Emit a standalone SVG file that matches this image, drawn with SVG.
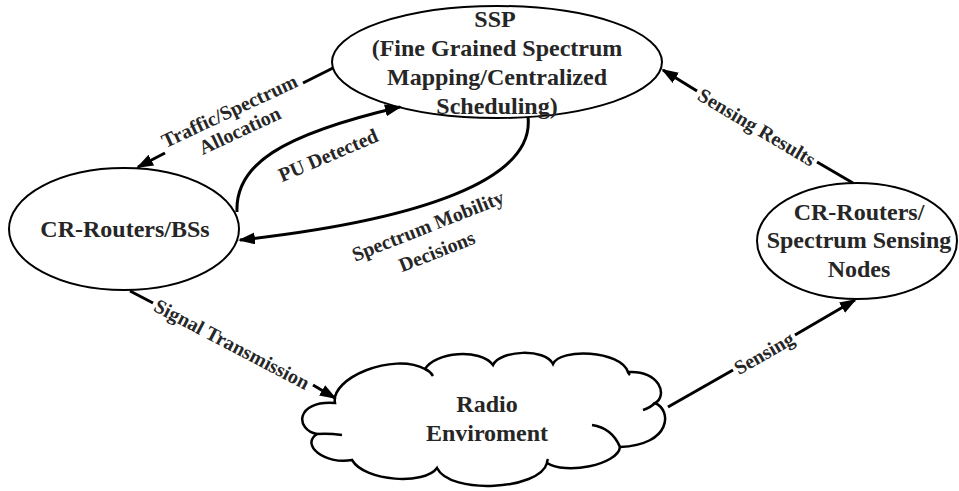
<svg xmlns="http://www.w3.org/2000/svg" width="959" height="491" viewBox="0 0 959 491">
<defs>
<marker id="ah" markerUnits="userSpaceOnUse" markerWidth="18" markerHeight="14" refX="15" refY="6" orient="auto">
<path d="M0,0 L17,6 L0,12 Z" fill="#000"/>
</marker>
<style>
.node{fill:#fff;stroke:#000;stroke-width:2}
.t{font-family:"Liberation Serif","Times New Roman",serif;font-weight:bold;font-size:24px;fill:#262626;text-anchor:middle}
.l{font-family:"Liberation Serif","Times New Roman",serif;font-weight:bold;font-size:20px;fill:#262626;text-anchor:middle}
.c{fill:none;stroke:#000;stroke-width:3}
.h{fill:none;stroke:#000;stroke-width:2.5}
</style>
</defs>
<rect width="959" height="491" fill="#fff"/>
<g id="ssp">
<ellipse class="node" cx="497" cy="62" rx="165" ry="56"/>
<text class="t" x="495" y="27">SSP</text>
<text class="t" x="497" y="56">(Fine Grained Spectrum</text>
<text class="t" x="497" y="85">Mapping/Centralized</text>
<text class="t" x="497" y="114">Scheduling)</text>
</g>
<g id="cr-bs">
<ellipse class="node" cx="124" cy="229" rx="115" ry="61"/>
<text class="t" x="125" y="237">CR-Routers/BSs</text>
</g>
<g id="cr-sensing">
<ellipse class="node" cx="857" cy="241" rx="100" ry="58"/>
<text class="t" x="859" y="220">CR-Routers/</text>
<text class="t" x="859" y="248">Spectrum Sensing</text>
<text class="t" x="859" y="277">Nodes</text>
</g>
<g id="radio">
<path class="h" style="fill:#fff" d="M335,403 C330,378 393,352 425,369 C435,352 480,348 493,365 C500,350 545,348 553,364 C560,348 620,350 628,372 C660,370 668,396 655,403 C672,410 672,445 620,447 C618,465 565,475 547,463 C540,490 450,495 437,468 C425,485 365,482 352,460 C325,465 300,445 317,434 C295,430 295,400 335,403 Z"/>
<path class="h" d="M425,369 Q430,371 433,376 M655,403 Q650,408 643,410 M592,425 Q612,428 620,447 M317,434 Q328,433 342,435 M547,463 Q547,461 548,459 M628,372 Q628,373 630,375"/>
<text class="t" x="487" y="412">Radio</text>
<text class="t" x="487" y="441">Enviroment</text>
</g>
<g id="connectors">
<path class="c" d="M333,68 L303,83"/>
<path class="c" d="M165,153 L138,167" marker-end="url(#ah)"/>
<path class="c" d="M237,212 C235,165 280,135 400,107" marker-end="url(#ah)"/>
<path class="c" d="M528,117 C535,180 420,220 240,240" marker-end="url(#ah)"/>
<path class="c" d="M130,291 L153,303"/>
<path class="c" d="M313,385 L335,398" marker-end="url(#ah)"/>
<path class="c" d="M668,407 L733,370"/>
<path class="c" d="M795,335 L855,300" marker-end="url(#ah)"/>
<path class="c" d="M853,183 L817,162"/>
<path class="c" d="M697,91 L663,70" marker-end="url(#ah)"/>
<g transform="translate(235,118) rotate(-25)">
<text class="l" x="-2" y="-2">Traffic/Spectrum</text>
<text class="l" x="-1" y="20">Allocation</text>
</g>
<g transform="translate(328,155) rotate(-23)">
<text class="l" x="0" y="7">PU Detected</text>
</g>
<g transform="translate(432,239) rotate(-21.5)">
<text class="l" x="1" y="-7">Spectrum Mobility</text>
<text class="l" x="0" y="20">Decisions</text>
</g>
<g transform="translate(232,344) rotate(27.6)">
<text class="l" x="0" y="7">Signal Transmission</text>
</g>
<g transform="translate(764,353) rotate(-29.8)">
<text class="l" x="0" y="7">Sensing</text>
</g>
<g transform="translate(757,127) rotate(30.7)">
<text class="l" x="0" y="7">Sensing Results</text>
</g>
</g>
</svg>
